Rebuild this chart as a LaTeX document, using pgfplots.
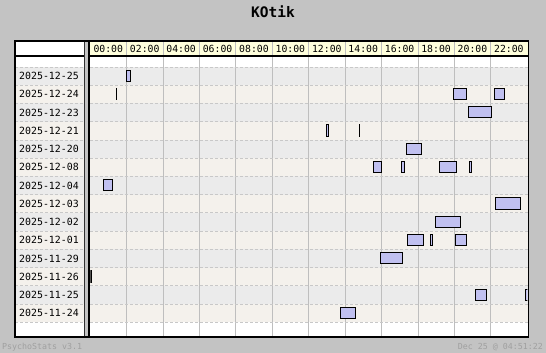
\documentclass[border=0pt]{standalone}
\usepackage{pgfplots}
\pgfplotsset{compat=1.18}
\usepackage{fontspec}
\newfontfamily\mono{DejaVu Sans Mono}
\definecolor{bgc}{HTML}{C3C3C3}
\definecolor{rowA}{HTML}{EBEBEB}
\definecolor{rowB}{HTML}{F4F1EC}
\definecolor{hdr}{HTML}{FFFFDC}
\definecolor{gridc}{HTML}{BEBEBE}
\definecolor{dashc}{HTML}{C8C8C8}
\definecolor{barc}{HTML}{C0C0F0}
\definecolor{footc}{HTML}{A0A0A0}
\definecolor{sepd}{HTML}{303030}
\newcommand\gbar[3]{\addplot[draw=black, fill=barc, line width=0.9pt, mark=none] coordinates {(#2,#1.19) (#3,#1.19) (#3,#1.81) (#2,#1.81)} -- cycle;}
\begin{document}
\begin{tikzpicture}[x=1pt,y=1pt]
\useasboundingbox (0,0) rectangle (546,353);
\fill[bgc] (0,0) rectangle (546,353);
\fill[white] (15,16) rectangle (528.3,312);
% row stripes
\foreach \k in {0,...,13}{
  \ifodd\k
    \fill[rowB] (15,{286-18.236*\k}) rectangle (528.3,{286-18.236*(\k+1)});
  \else
    \fill[rowA] (15,{286-18.236*\k}) rectangle (528.3,{286-18.236*(\k+1)});
  \fi
}
% header
\fill[hdr] (89.7,297) rectangle (528.3,312);
% vertical grid
\foreach \i in {1,...,11}{
  \draw[gridc, line width=1pt] ({90.3+36.417*\i},16) -- ({90.3+36.417*\i},312);
}
% dashed row lines
\foreach \k in {0,...,14}{
  \draw[dashc, line width=0.8pt, dash pattern=on 3pt off 2pt] (15,{286-18.236*\k}) -- (528.3,{286-18.236*\k});
}
% header bottom line
\draw[black, line width=1.8pt] (15,296.8) -- (528.3,296.8);
% separator
\fill[bgc] (84.3,16) rectangle (89.7,312);
\draw[sepd, line width=1pt] (84.8,16) -- (84.8,312);
\draw[black, line width=1.4pt] (89.1,16) -- (89.1,312);

\begin{axis}[at={(90.3pt,31pt)}, anchor=south west, scale only axis,
  width=437pt, height=255.3pt, xmin=0, xmax=24, ymin=0, ymax=14, hide axis]
% 2025-12-25
\gbar{13}{2.0}{2.22}
% 2025-12-24
\gbar{12}{1.41}{1.45}
\gbar{12}{19.95}{20.68}
\gbar{12}{22.2}{22.77}
% 2025-12-23
\gbar{11}{20.77}{22.05}
% 2025-12-21
\gbar{10}{12.99}{13.1}
\gbar{10}{14.77}{14.79}
% 2025-12-20
\gbar{9}{17.36}{18.2}
% 2025-12-08
\gbar{8}{15.55}{16.0}
\gbar{8}{17.09}{17.27}
\gbar{8}{19.18}{20.13}
\gbar{8}{20.82}{20.95}
% 2025-12-04
\gbar{7}{0.71}{1.23}
% 2025-12-03
\gbar{6}{22.25}{23.65}
% 2025-12-02
\gbar{5}{18.96}{20.35}
% 2025-12-01
\gbar{4}{17.42}{18.32}
\gbar{4}{18.68}{18.81}
\gbar{4}{20.05}{20.68}
% 2025-11-29
\gbar{3}{15.93}{17.16}
% 2025-11-26
\gbar{2}{0.02}{0.04}
% 2025-11-25
\gbar{1}{21.15}{21.78}
\gbar{1}{23.9}{24.2}
% 2025-11-24
\gbar{0}{13.74}{14.58}
\end{axis}

% frame
\draw[black, line width=1.1pt] (15,16) rectangle (528.3,312);
% header labels
\foreach \lab [count=\i from 0] in {00:00,02:00,04:00,06:00,08:00,10:00,12:00,14:00,16:00,18:00,20:00,22:00}{
  \node[inner sep=0pt, font=\mono\fontsize{9.8}{10}\selectfont] at ({108.3+36.417*\i},304.5) {\lab};
}
% row labels
\foreach \lab [count=\k from 0] in {2025-12-25,2025-12-24,2025-12-23,2025-12-21,2025-12-20,2025-12-08,2025-12-04,2025-12-03,2025-12-02,2025-12-01,2025-11-29,2025-11-26,2025-11-25,2025-11-24}{
  \node[inner sep=0pt, anchor=west, font=\mono\fontsize{9.9}{10}\selectfont] at (19,{286-18.236*\k-9.118}) {\lab};
}
% title
\node[inner sep=0pt, font=\mono\bfseries\fontsize{14.5}{16}\selectfont] at (273,341.3) {KOtik};
% footer
\node[inner sep=0pt, anchor=west, text=footc, font=\mono\fontsize{8.3}{9}\selectfont] at (2,5.5) {PsychoStats v3.1};
\node[inner sep=0pt, anchor=east, text=footc, font=\mono\fontsize{8.3}{9}\selectfont] at (543,5.5) {Dec 25 @ 04:51:22};
\end{tikzpicture}
\end{document}
